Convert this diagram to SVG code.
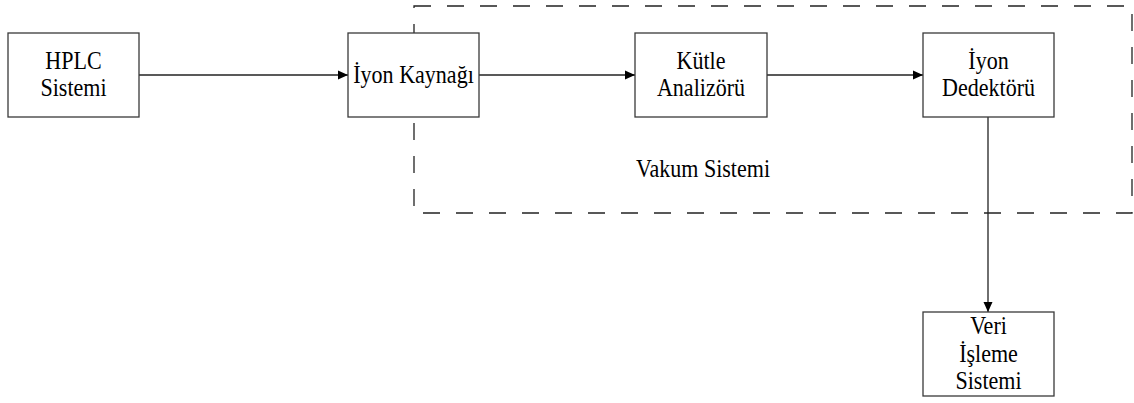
<svg xmlns="http://www.w3.org/2000/svg" width="1134" height="403" viewBox="0 0 1134 403">
<defs>
<style>
.box{fill:#fff;stroke:#3a3a3a;stroke-width:1.3}
.t{font-family:"Liberation Serif","Times New Roman",serif;font-size:24.5px;fill:#000;text-anchor:middle}
.conn{stroke:#222;stroke-width:1.3;fill:none}
.dash{fill:none;stroke:#222;stroke-width:1.3;stroke-dasharray:17 16}
</style>
<marker id="arr" markerWidth="10" markerHeight="10" refX="10" refY="5" orient="auto" markerUnits="userSpaceOnUse">
<path d="M0,0.5 L10,5 L0,9.5 Z" fill="#000"/>
</marker>
</defs>
<rect fill="#fff" x="0" y="0" width="1134" height="403"/>
<g id="vakum">
<rect class="dash" x="414" y="6" width="718" height="207"/>
<text class="t" transform="translate(703,177) scale(0.9,1)">Vakum Sistemi</text>
</g>
<g id="connectors">
<line class="conn" x1="139" y1="75" x2="348" y2="75" marker-end="url(#arr)"/>
<line class="conn" x1="479" y1="75" x2="635" y2="75" marker-end="url(#arr)"/>
<line class="conn" x1="767" y1="75" x2="923" y2="75" marker-end="url(#arr)"/>
<line class="conn" x1="988" y1="117" x2="988" y2="312" marker-end="url(#arr)"/>
</g>
<g id="hplc">
<rect class="box" x="8" y="33" width="131" height="84"/>
<text class="t" transform="translate(73.5,68.7) scale(0.9,1)">HPLC</text>
<text class="t" transform="translate(73.5,96.3) scale(0.9,1)">Sistemi</text>
</g>
<g id="iyon-kaynagi">
<rect class="box" x="348" y="33" width="131" height="84"/>
<text class="t" transform="translate(413.5,82.5) scale(0.9,1)">İyon Kaynağı</text>
</g>
<g id="kutle">
<rect class="box" x="635" y="33" width="132" height="84"/>
<text class="t" transform="translate(701,68.7) scale(0.9,1)">Kütle</text>
<text class="t" transform="translate(701,96.3) scale(0.9,1)">Analizörü</text>
</g>
<g id="dedektor">
<rect class="box" x="923" y="33" width="131" height="84"/>
<text class="t" transform="translate(988.5,68.7) scale(0.9,1)">İyon</text>
<text class="t" transform="translate(988.5,96.3) scale(0.9,1)">Dedektörü</text>
</g>
<g id="veri">
<rect class="box" x="923" y="312" width="131" height="84"/>
<text class="t" transform="translate(988.5,334) scale(0.9,1)">Veri</text>
<text class="t" transform="translate(988.5,362) scale(0.9,1)">İşleme</text>
<text class="t" transform="translate(988.5,389) scale(0.9,1)">Sistemi</text>
</g>
</svg>
